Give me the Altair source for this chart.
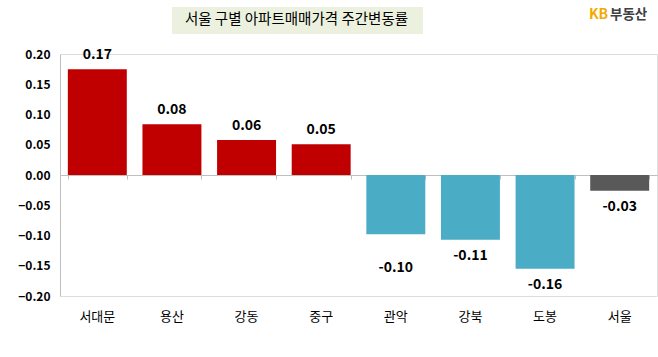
import altair as alt
import pandas as pd

categories = ["서대문", "용산", "강동", "중구", "관악", "강북", "도봉", "서울"]
values = [0.175, 0.084, 0.058, 0.051, -0.098, -0.107, -0.155, -0.026]
labels = ["0.17", "0.08", "0.06", "0.05", "-0.10", "-0.11", "-0.16", "-0.03"]
y_ticks = [0.20, 0.15, 0.10, 0.05, 0.00, -0.05, -0.10, -0.15, -0.20]
title_text = "서울 구별 아파트매매가격 주간변동률"

df = pd.DataFrame({"cat": categories, "value": values, "label": labels})
df["group"] = ["total" if c == "서울" else ("up" if v >= 0 else "down") for c, v in zip(categories, values)]

FONT = "Noto Sans CJK KR"
W, H = 597, 242

xscale = alt.Scale(paddingInner=0.21, paddingOuter=0.105)
yscale = alt.Scale(domain=[-0.2, 0.2], nice=False, zero=False)

xaxis = alt.Axis(title=None, domain=False, ticks=False, labelAngle=0,
                 labelPadding=14, labelFontSize=13, labelFont=FONT,
                 labelColor="#000000", labelFontWeight="normal")
yaxis = alt.Axis(title=None, values=y_ticks, format=".2f", grid=False,
                 ticks=False, domainColor="#BFBFBF", labelPadding=10,
                 labelFontSize=12, labelFont=FONT, labelFontWeight="bold",
                 labelColor="#000000")

X = alt.X("cat:N", sort=categories, scale=xscale, axis=xaxis)
Xn = alt.X("cat:N", sort=categories, scale=xscale, axis=None)
Y = alt.Y("value:Q", scale=yscale, axis=yaxis)

base = alt.Chart(df)

bars = base.mark_bar().encode(
    x=X, y=Y,
    color=alt.Color("group:N", legend=None,
                    scale=alt.Scale(domain=["up", "down", "total"],
                                    range=["#C00000", "#4BACC6", "#595959"])),
)

zero_axis = base.mark_tick(opacity=0).encode(
    x=alt.X("cat:N", sort=categories, scale=xscale,
            axis=alt.Axis(title=None, orient="bottom", offset=-121, labels=False,
                          domain=True, domainColor="#BFBFBF", ticks=True,
                          tickBand="extent", tickSize=4, tickColor="#BFBFBF")),
    y=Y,
)

def value_text(filt, dy):
    return base.transform_filter(filt).mark_text(
        dy=dy, fontSize=14, fontWeight="bold", font=FONT, color="#000000", baseline="middle"
    ).encode(x=Xn, y=Y, text="label:N")

pos_text = value_text("datum.value >= 0", -14)
neg_text = value_text("datum.value < 0 && datum.cat != '관악'", 16)
neg_text2 = value_text("datum.cat == '관악'", 34)

one = alt.Data(values=[{"a": 1}])

title_box = alt.Chart(one).mark_rect(color="#EBF1DE").encode(
    x=alt.value(112), x2=alt.value(363), y=alt.value(-47), y2=alt.value(-20))
title_lbl = alt.Chart(one).mark_text(
    text=title_text, fontSize=14.5, font=FONT, color="#000000", align="center", baseline="middle"
).encode(x=alt.value(236.5), y=alt.value(-34))
kb_lbl = alt.Chart(one).mark_text(
    text="KB", fontSize=14, font=FONT, fontWeight="bold", color="#F2A900", align="left", baseline="middle"
).encode(x=alt.value(529), y=alt.value(-39))
kb_lbl2 = alt.Chart(one).mark_text(
    text="부동산", fontSize=13.5, font=FONT, fontWeight="bold", color="#404040", align="left", baseline="middle"
).encode(x=alt.value(550), y=alt.value(-39))

chart = alt.layer(
    bars, zero_axis, pos_text, neg_text, neg_text2, title_box, title_lbl, kb_lbl, kb_lbl2
).resolve_axis(x="independent").properties(
    width=W, height=H,
    autosize=alt.AutoSizeParams(type="none"),
    padding={"left": 60, "top": 54, "right": 1, "bottom": 61},
).configure_view(stroke=None).configure(background="#FFFFFF")

chart.save("out.html", embed_options={"renderer": "svg", "actions": False})
